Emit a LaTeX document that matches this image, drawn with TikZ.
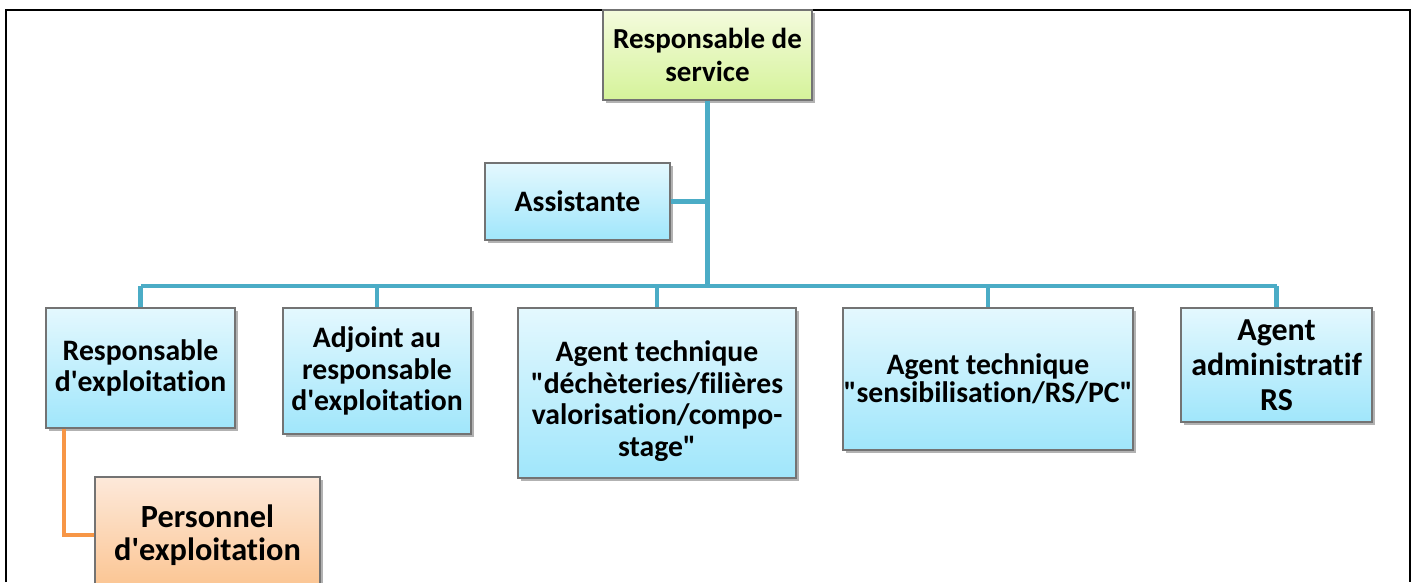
\documentclass[tikz,border=0pt]{standalone}
\usepackage{fontspec}
\setmainfont{Carlito}[Ligatures={TeXOff,CommonOff}]
\usetikzlibrary{shadows}
\definecolor{teal}{HTML}{4BACC6}
\definecolor{orangeline}{HTML}{F79646}
\definecolor{bluetop}{HTML}{E4F8FE}
\definecolor{bluebot}{HTML}{A0E6FB}
\definecolor{greentop}{HTML}{F4FBDD}
\definecolor{greenbot}{HTML}{D5F39A}
\definecolor{orangetop}{HTML}{FDE9DA}
\definecolor{orangebot}{HTML}{FBC38F}
\tikzset{
  orgbox/.style={draw=black!55, line width=0.6pt, align=center,
    font=\fontsize{16.9}{18}\selectfont\bfseries, inner sep=0pt,
    drop shadow={shadow xshift=1.6pt, shadow yshift=-1.8pt, opacity=0.3, fill=black},
    top color=bluetop, bottom color=bluebot},
  greenbox/.style={orgbox, top color=greentop, bottom color=greenbot},
  orangebox/.style={orgbox, top color=orangetop, bottom color=orangebot},
  link/.style={draw=teal, line width=2.8pt},
  sublink/.style={draw=orangeline, line width=2.3pt},
  frameline/.style={draw=black, line width=1.2pt}
}
\begin{document}
\begin{tikzpicture}[x=0.02cm, y=-0.02cm]
\path[use as bounding box, clip] (0,0) rectangle (1415,582);
\fill[white] (0,0) rectangle (1415,582);
% frame
\draw[frameline] (6,582) -- (6,10) -- (1410,10) -- (1410,582);
% bus coordinates
\coordinate (busL) at (141,286);
\coordinate (busR) at (1277,286);
% nodes
\node[greenbox, font=\fontsize{16.5}{18.7}\selectfont\bfseries, minimum width=209*0.02cm, minimum height=90*0.02cm] (top) at (707.5,55) {Responsable de\\service};
\node[orgbox, minimum width=185*0.02cm, minimum height=77*0.02cm] (assist) at (577.5,201.5) {Assistante};
\node[orgbox, minimum width=189*0.02cm, minimum height=120*0.02cm] (re) at (140.5,368) {Responsable\\d'exploitation};
\node[orgbox, minimum width=188*0.02cm, minimum height=126*0.02cm] (adj) at (377,371) {Adjoint au\\responsable\\d'exploitation};
\node[orgbox, minimum width=278*0.02cm, minimum height=170*0.02cm] (at1) at (657,393) {\rule{0pt}{21pt}Agent technique\\"déchèteries/filières\\valorisation/compo-\\stage"};
\node[orgbox, font=\fontsize{16.9}{16}\selectfont\bfseries, minimum width=290*0.02cm, minimum height=142*0.02cm] (at2) at (988,379) {Agent technique\\"sensibilisation/RS/PC"};
\node[orgbox, font=\fontsize{18.2}{19.8}\selectfont\bfseries, minimum width=191*0.02cm, minimum height=114*0.02cm] (adm) at (1276.5,365) {Agent\\administratif\\RS};
\node[orangebox, font=\fontsize{18.4}{18.7}\selectfont\bfseries, minimum width=225*0.02cm, minimum height=116*0.02cm] (pers) at (207.5,535) {Personnel\\d'exploitation};
% connectors
\path[link] (top.south) -- (top.south |- busL);
\path[link] (busL) -- (busR);
\path[link] (assist.east) -- (assist.east -| top.south);
\path[link] (re.north) -- (re.north |- busL);
\path[link] (adj.north) -- (adj.north |- busL);
\path[link] (at1.north) -- (at1.north |- busL);
\path[link] (at2.north) -- (at2.north |- busL);
\path[link] (adm.north) -- (adm.north |- busL);
\path[sublink] (re.south west) ++(19,0) |- (pers.west);
\end{tikzpicture}
\end{document}
